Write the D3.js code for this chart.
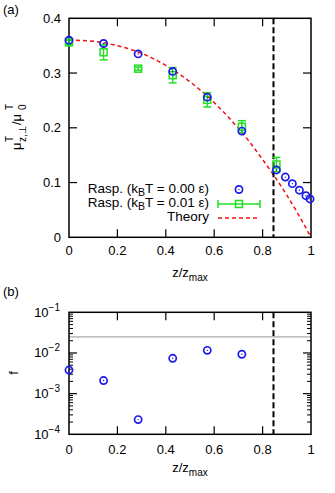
<!DOCTYPE html>
<html><head><meta charset="utf-8">
<script src="https://cdn.jsdelivr.net/npm/d3@7"></script>
<style>body{margin:0;background:#fff} text{font-family:"Liberation Sans",Arial,sans-serif;fill:#000}</style>
</head><body><svg id="c" width="335" height="493"></svg>
<script>
// ---- data ----
const zCold=[0,1/7,2/7,3/7,4/7,5/7,6/7,0.894,0.923,0.952,0.979,0.996];
const muCold=[0.360,0.354,0.335,0.303,0.256,0.194,0.123,0.110,0.098,0.086,0.076,0.070];
const zWarm=[0,1/7,2/7,3/7,4/7,5/7,6/7];
const muWarm=[0.356,0.338,0.308,0.296,0.251,0.202,0.133];
const errWarm=[0.004,0.014,0.003,0.014,0.013,0.011,0.013];
const zTheory=[0,0.1,0.2,0.3,0.4,0.5,0.6,0.7,0.75,0.8,0.85,0.9,0.95,1];
const muTheory=[0.360,0.358,0.350,0.336,0.314,0.284,0.246,0.199,0.172,0.142,0.111,0.077,0.040,0.0];
const zF=[0,1/7,2/7,3/7,4/7,5/7];
const fVals=[0.0038,0.0021,0.00023,0.0074,0.0116,0.0093];
const zCut=0.845;
const fRef=0.025;
const xTicks=[0,0.2,0.4,0.6,0.8,1];
const xTickLabels=["0","0.2","0.4","0.6","0.8","1"];
const yTicksA=[0,0.1,0.2,0.3,0.4];
const yTickLabelsA=["0","0.1","0.2","0.3","0.4"];
const yTicksB=[1e-4,1e-3,1e-2,1e-1];
const yTickExpB=["−4","−3","−2","−1"];
const legendLabels=["0.00","0.01"];

const BLUE="#1a1aee", GREEN="#22e022", RED="#ee1111";
const svg=d3.select("#c");
const FS=13;

const x=d3.scaleLinear().domain([0,1]).range([69,311]);
const yA=d3.scaleLinear().domain([0,0.4]).range([237.3,18.3]);
const yB=d3.scaleLog().domain([1e-4,1e-1]).range([434.3,312.3]);

function frame(top, bottom){
  svg.append("rect").attr("x",69).attr("y",top).attr("width",242).attr("height",bottom-top)
   .attr("fill","none").attr("stroke","#000").attr("stroke-width",1.5);
}
function xTicksDraw(top,bottom,labelY){
  xTicks.forEach((t,i)=>{
    if(i>0 && i<xTicks.length-1){
      svg.append("line").attr("x1",x(t)).attr("x2",x(t)).attr("y1",bottom).attr("y2",bottom-8).attr("stroke","#000").attr("stroke-width",1.2);
      svg.append("line").attr("x1",x(t)).attr("x2",x(t)).attr("y1",top).attr("y2",top+8).attr("stroke","#000").attr("stroke-width",1.2);
    }
    svg.append("text").attr("x",x(t)).attr("y",labelY).attr("text-anchor","middle").attr("font-size",FS).text(xTickLabels[i]);
  });
}
function xLabel(yb){
  const t=svg.append("text").attr("x",190).attr("y",yb).attr("text-anchor","middle").attr("font-size",FS);
  t.append("tspan").text("z/z");
  t.append("tspan").attr("dy",4).attr("font-size",10).text("max");
}

// ---- panel (a) ----
frame(18.3,237.3);
xTicksDraw(18.3,237.3,255);
xLabel(277);
yTicksA.forEach((t,i)=>{
  if(i>0 && i<yTicksA.length-1){
    svg.append("line").attr("x1",69).attr("x2",77).attr("y1",yA(t)).attr("y2",yA(t)).attr("stroke","#000").attr("stroke-width",1.2);
    svg.append("line").attr("x1",311).attr("x2",303).attr("y1",yA(t)).attr("y2",yA(t)).attr("stroke","#000").attr("stroke-width",1.2);
  }
  svg.append("text").attr("x",61).attr("y",yA(t)+4.5).attr("text-anchor","end").attr("font-size",FS).text(yTickLabelsA[i]);
});
svg.append("text").attr("x",3).attr("y",14).attr("font-size",FS).text("(a)");
// y label
{
  const g=svg.append("g").attr("transform","translate(21,150) rotate(-90)");
  g.append("text").attr("x",0).attr("y",0).attr("font-size",FS).text("μ");
  g.append("text").attr("x",8).attr("y",-8).attr("font-size",10).text("T");
  g.append("text").attr("x",8).attr("y",5).attr("font-size",10).text("z,⊥");
  g.append("text").attr("x",25).attr("y",0).attr("font-size",FS).text("/μ");
  g.append("text").attr("x",40).attr("y",-8).attr("font-size",10).text("T");
  g.append("text").attr("x",40).attr("y",5).attr("font-size",10).text("0");
}

// theory
svg.append("path").datum(zTheory.map((z,i)=>[z,muTheory[i]]))
  .attr("d",d3.line().x(d=>x(d[0])).y(d=>yA(d[1])).curve(d3.curveMonotoneX))
  .attr("fill","none").attr("stroke",RED).attr("stroke-width",1.5).attr("stroke-dasharray","4,3");

// vertical cut lines
[[18.3,237.3],[312.3,434.3]].forEach(([a,b])=>{
  svg.append("line").attr("x1",x(zCut)).attr("x2",x(zCut)).attr("y1",a).attr("y2",b)
   .attr("stroke","#000").attr("stroke-width",2).attr("stroke-dasharray","6,3");
});

function errMark(cx,cy,ylo,yhi){
  svg.append("line").attr("x1",cx).attr("x2",cx).attr("y1",ylo).attr("y2",yhi).attr("stroke",GREEN).attr("stroke-width",1.5);
  [ylo,yhi].forEach(v=>svg.append("line").attr("x1",cx-4).attr("x2",cx+4).attr("y1",v).attr("y2",v).attr("stroke",GREEN).attr("stroke-width",1.5));
  svg.append("rect").attr("x",cx-3.5).attr("y",cy-3.5).attr("width",7).attr("height",7).attr("fill","none").attr("stroke",GREEN).attr("stroke-width",1.5);
}
zWarm.forEach((z,i)=>errMark(x(z),yA(muWarm[i]),yA(muWarm[i]-errWarm[i]),yA(muWarm[i]+errWarm[i])));

function circ(cx,cy){
  svg.append("circle").attr("cx",cx).attr("cy",cy).attr("r",3.6).attr("fill","none").attr("stroke",BLUE).attr("stroke-width",1.7);
  svg.append("circle").attr("cx",cx).attr("cy",cy).attr("r",0.7).attr("fill",BLUE);
}
zCold.forEach((z,i)=>circ(x(z),yA(muCold[i])));

// legend
legendLabels.forEach((v,i)=>{
  const t=svg.append("text").attr("x",209).attr("y",193+i*14).attr("text-anchor","end").attr("font-size",13.5);
  t.append("tspan").text("Rasp. (k");
  t.append("tspan").attr("dy",3).attr("font-size",10.5).text("B");
  t.append("tspan").attr("dy",-3).text("T = "+v+" ε)");
});
svg.append("text").attr("x",209).attr("y",221).attr("text-anchor","end").attr("font-size",13.5).text("Theory");
circ(239,189.5);
svg.append("line").attr("x1",218).attr("x2",260).attr("y1",204).attr("y2",204).attr("stroke",GREEN).attr("stroke-width",1.5);
[218,260].forEach(v=>svg.append("line").attr("x1",v).attr("x2",v).attr("y1",200).attr("y2",208).attr("stroke",GREEN).attr("stroke-width",1.5));
svg.append("rect").attr("x",235.5).attr("y",200.5).attr("width",7).attr("height",7).attr("fill","none").attr("stroke",GREEN).attr("stroke-width",1.5);
svg.append("line").attr("x1",218).attr("x2",260).attr("y1",218).attr("y2",218).attr("stroke",RED).attr("stroke-width",1.5).attr("stroke-dasharray","4,3");

// ---- panel (b) ----
svg.append("line").attr("x1",69).attr("x2",311).attr("y1",yB(fRef)).attr("y2",yB(fRef)).attr("stroke","#aaa").attr("stroke-width",1.2);
frame(312.3,434.3);
xTicksDraw(312.3,434.3,454);
xLabel(472);
svg.append("text").attr("x",3).attr("y",296).attr("font-size",FS).text("(b)");
{
  const g=svg.append("g").attr("transform","translate(18,373) rotate(-90)");
  g.append("text").attr("text-anchor","middle").attr("font-size",FS).text("f");
}
yTicksB.forEach((t,i)=>{
  if(i>0 && i<yTicksB.length-1){
    svg.append("line").attr("x1",69).attr("x2",77).attr("y1",yB(t)).attr("y2",yB(t)).attr("stroke","#000").attr("stroke-width",1.2);
    svg.append("line").attr("x1",311).attr("x2",303).attr("y1",yB(t)).attr("y2",yB(t)).attr("stroke","#000").attr("stroke-width",1.2);
  }
  const tx=svg.append("text").attr("x",60).attr("y",yB(t)+4.5).attr("text-anchor","end").attr("font-size",FS);
  tx.append("tspan").text("10");
  tx.append("tspan").attr("dy",-6).attr("font-size",10).text(yTickExpB[i]);
  if(i<yTicksB.length-1){
    for(let k=2;k<=9;k++){
      const v=t*k;
      svg.append("line").attr("x1",69).attr("x2",73).attr("y1",yB(v)).attr("y2",yB(v)).attr("stroke","#000").attr("stroke-width",1);
      svg.append("line").attr("x1",311).attr("x2",307).attr("y1",yB(v)).attr("y2",yB(v)).attr("stroke","#000").attr("stroke-width",1);
    }
  }
});
zF.forEach((z,i)=>circ(x(z),yB(fVals[i])));
</script></body></html>
